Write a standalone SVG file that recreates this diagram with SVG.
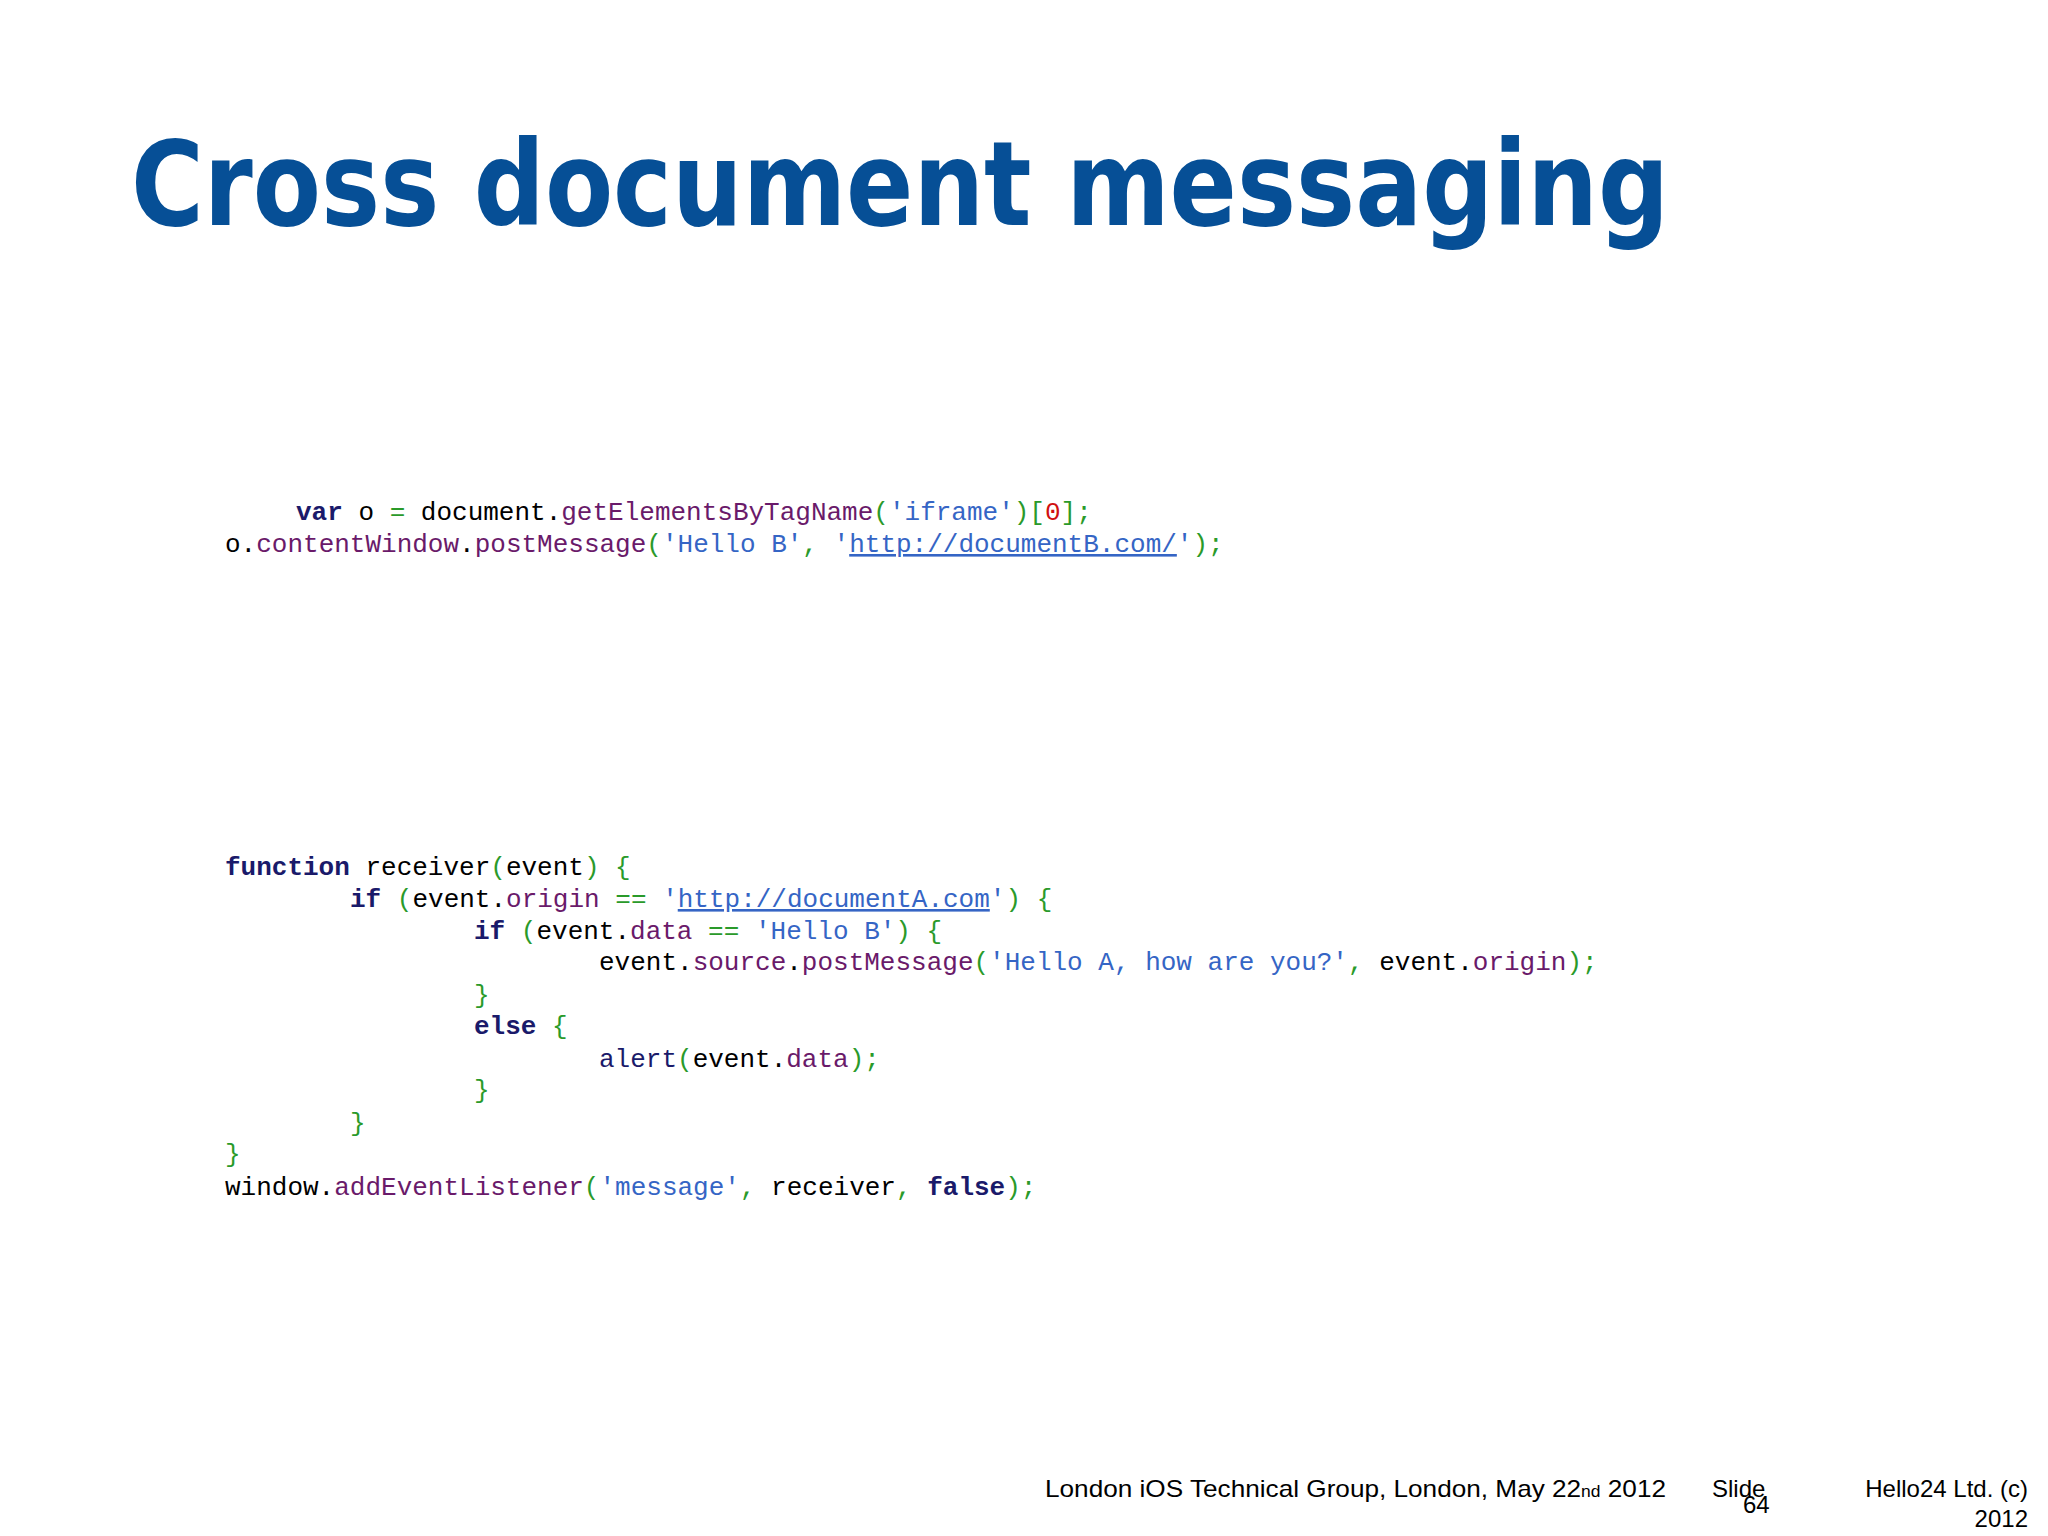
<svg xmlns="http://www.w3.org/2000/svg" width="2048" height="1536" viewBox="0 0 2048 1536">
<style>
.t{font-family:"DejaVu Sans","Liberation Sans",sans-serif;font-weight:bold;fill:#064f96}
.c{font-family:"Liberation Mono","DejaVu Sans Mono",monospace;font-size:26px;fill:#000}
.k{fill:#1a1a6a;font-weight:bold}.m{fill:#6a1a6a}.s{fill:#3565c5}.p{fill:#2a9a2a}.n{fill:#d01010}
.u{fill:#3565c5;text-decoration:underline}
.f{font-family:"Liberation Sans",Arial,sans-serif;font-size:24px;fill:#000}
</style>
<rect width="2048" height="1536" fill="#fff"/>
<g id="title"><text class="t" x="131" y="225" font-size="118" textLength="1538" lengthAdjust="spacingAndGlyphs">Cross document messaging</text></g>
<g id="code1" class="c" xml:space="preserve">
<text x="296" y="520"><tspan class="k">var</tspan> o <tspan class="p">=</tspan> document.<tspan class="m">getElementsByTagName</tspan><tspan class="p">(</tspan><tspan class="s">'iframe'</tspan><tspan class="p">)[</tspan><tspan class="n">0</tspan><tspan class="p">];</tspan></text>
<text x="225" y="552">o.<tspan class="m">contentWindow</tspan>.<tspan class="m">postMessage</tspan><tspan class="p">(</tspan><tspan class="s">'Hello B'</tspan><tspan class="p">,</tspan> <tspan class="s">'</tspan><tspan class="u">http://documentB.com/</tspan><tspan class="s">'</tspan><tspan class="p">);</tspan></text>
</g>
<g id="code2" class="c" xml:space="preserve">
<text x="225" y="875"><tspan class="k">function</tspan> receiver<tspan class="p">(</tspan>event<tspan class="p">)</tspan> <tspan class="p">{</tspan></text>
<text x="350" y="907"><tspan class="k">if</tspan> <tspan class="p">(</tspan>event.<tspan class="m">origin</tspan> <tspan class="p">==</tspan> <tspan class="s">'</tspan><tspan class="u">http://documentA.com</tspan><tspan class="s">'</tspan><tspan class="p">)</tspan> <tspan class="p">{</tspan></text>
<text x="474" y="939"><tspan class="k">if</tspan> <tspan class="p">(</tspan>event.<tspan class="m">data</tspan> <tspan class="p">==</tspan> <tspan class="s">'Hello B'</tspan><tspan class="p">)</tspan> <tspan class="p">{</tspan></text>
<text x="599" y="970">event.<tspan class="m">source</tspan>.<tspan class="m">postMessage</tspan><tspan class="p">(</tspan><tspan class="s">'Hello A, how are you?'</tspan><tspan class="p">,</tspan> event.<tspan class="m">origin</tspan><tspan class="p">);</tspan></text>
<text x="474" y="1003" class="p">}</text>
<text x="474" y="1034"><tspan class="k">else</tspan> <tspan class="p">{</tspan></text>
<text x="599" y="1067"><tspan class="k" style="font-weight:normal">alert</tspan><tspan class="p">(</tspan>event.<tspan class="m">data</tspan><tspan class="p">);</tspan></text>
<text x="474" y="1098" class="p">}</text>
<text x="350" y="1131" class="p">}</text>
<text x="225" y="1162" class="p">}</text>
<text x="225" y="1195">window.<tspan class="m">addEventListener</tspan><tspan class="p">(</tspan><tspan class="s">'message'</tspan><tspan class="p">,</tspan> receiver<tspan class="p">,</tspan> <tspan class="k">false</tspan><tspan class="p">);</tspan></text>
</g>
<g id="footer" class="f">
<text x="1045" y="1497" textLength="621" lengthAdjust="spacingAndGlyphs">London iOS Technical Group, London, May 22<tspan font-size="16">nd</tspan> 2012</text>
<text x="1712" y="1497">Slide</text>
<text x="1743" y="1513">64</text>
<text x="2028" y="1497" text-anchor="end">Hello24 Ltd. (c)</text>
<text x="2028" y="1527" text-anchor="end">2012</text>
</g>
</svg>
